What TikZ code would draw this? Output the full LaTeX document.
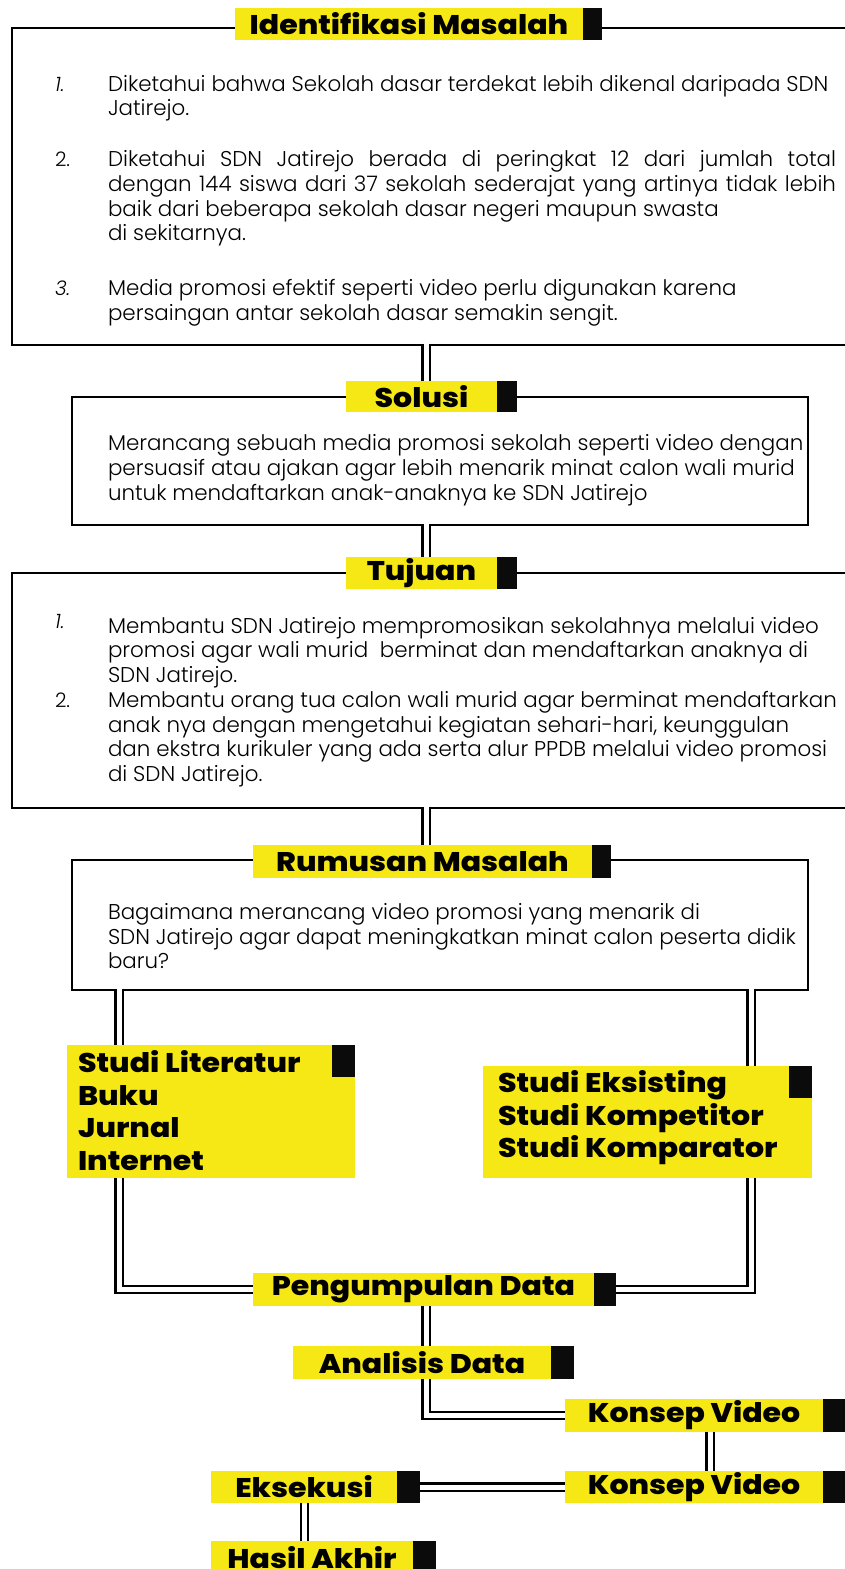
\documentclass[tikz,border=0pt]{standalone}
\usepackage{fontspec}
\IfFontExistsTF{Poppins Light}{\newfontfamily\bodyfont{Poppins Light}}{\newfontfamily\bodyfont{Poppins}}
\IfFontExistsTF{Poppins ExtraBold}{%
  \newfontfamily\headfontX{Poppins ExtraBold}[FakeStretch=1.11]\newcommand\headfont{\headfontX}}{%
  \newfontfamily\headfontX{Poppins}[FakeStretch=1.1]\newcommand\headfont{\headfontX\bfseries}}
\definecolor{tagyellow}{HTML}{F5E814}
\definecolor{tagblack}{HTML}{0B0B0B}
\pgfdeclarelayer{bg}
\pgfdeclarelayer{mid}
\pgfsetlayers{bg,mid,main}
\begin{document}
\begin{tikzpicture}[x=1pt,y=-1pt,
  every node/.style={inner sep=0pt, outer sep=0pt},
  frame/.style={draw=black, line width=2.7pt, fill=white, anchor=north west},
  tagy/.style={fill=tagyellow, anchor=north west, text=black,
    font=\headfont\fontsize{27}{30}\selectfont},
  tagk/.style={fill=tagblack, anchor=north west},
  dbl/.style={draw=black, line width=2.4pt, double=white, double distance=5pt},
  body/.style={anchor=north west, align=left, text=black,
    font=\bodyfont\fontsize{21.4}{24.7}\selectfont},
  num/.style={anchor=north west, align=left, text=black,
    font=\bodyfont\fontsize{20}{24.7}\selectfont},
  studi/.style={anchor=north west, align=left, text=black,
    font=\headfont\fontsize{27}{32.5}\selectfont}
]
\useasboundingbox (0,0) rectangle (845,1569);
\coordinate (spine) at (426,0);
\coordinate (lspine) at (119,0);
\coordinate (rspine) at (751,0);
\coordinate (kvx) at (710,0);
\coordinate (hx) at (304.5,0);

% frames
\begin{pgfonlayer}{bg}
\fill[white] (0,0) rectangle (845,1569);
\node[frame, minimum width=838, minimum height=317] (b1) at (12,28) {};
\node[frame, minimum width=736, minimum height=128] (b2) at (72,397) {};
\node[frame, minimum width=838, minimum height=235] (b3) at (12,573) {};
\node[frame, minimum width=736, minimum height=130] (b4) at (72,860) {};
\end{pgfonlayer}

% yellow blocks and tags
\node[tagy, minimum width=288, minimum height=133] (slit) at (67,1045) {};
\node[tagk, minimum width=23, minimum height=32] (slitk) at (332,1045) {};
\node[tagy, minimum width=329, minimum height=112] (seks) at (483,1066) {};
\node[tagk, minimum width=23, minimum height=32] (seksk) at (789,1066) {};

\node[tagy, minimum width=348, minimum height=32] (idT) at (235,8) {Identifikasi Masalah};
\node[tagk, minimum width=19, minimum height=32] (idK) at (583,8) {};
\node[tagy, minimum width=151, minimum height=31] (solT) at (346,381) {Solusi};
\node[tagk, minimum width=20, minimum height=31] (solK) at (497,381) {};
\node[tagy, minimum width=151, minimum height=32] (tujT) at (346,557) {Tujuan};
\node[tagk, minimum width=20, minimum height=32] (tujK) at (497,557) {};
\node[tagy, minimum width=339, minimum height=33] (rumT) at (253,845) {Rumusan Masalah};
\node[tagk, minimum width=19, minimum height=33] (rumK) at (592,845) {};
\node[tagy, minimum width=341, minimum height=33] (pengT) at (253,1273) {Pengumpulan Data};
\node[tagk, minimum width=22, minimum height=33] (pengK) at (594,1273) {};
\node[tagy, minimum width=258, minimum height=33] (anaT) at (293,1346) {Analisis Data};
\node[tagk, minimum width=23, minimum height=33] (anaK) at (551,1346) {};
\node[tagy, minimum width=258, minimum height=33] (kv1T) at (565,1399) {Konsep Video};
\node[tagk, minimum width=23, minimum height=33] (kv1K) at (823,1399) {};
\node[tagy, minimum width=258, minimum height=32] (kv2T) at (565,1471) {Konsep Video};
\node[tagk, minimum width=23, minimum height=32] (kv2K) at (823,1471) {};
\node[tagy, minimum width=186, minimum height=32] (eksT) at (211,1471) {Eksekusi};
\node[tagk, minimum width=23, minimum height=32] (eksK) at (397,1471) {};
\node[tagy, minimum width=202, minimum height=33] (hasT) at (211,1541) {Hasil Akhir};
\node[tagk, minimum width=23, minimum height=33] (hasK) at (413,1541) {};

% connectors (below the tags, above the frames)
\begin{pgfonlayer}{mid}
\draw[dbl] ([yshift=1.5pt]b1.south -| spine) -- (solT.north -| spine);
\draw[dbl] ([yshift=1.5pt]b2.south -| spine) -- (tujT.north -| spine);
\draw[dbl] ([yshift=1.5pt]b3.south -| spine) -- (rumT.north -| spine);
\draw[dbl] ([yshift=1.5pt]b4.south -| lspine) -- (slit.north -| lspine);
\draw[dbl] ([yshift=1.5pt]b4.south -| rspine) -- (seks.north -| rspine);
\draw[dbl] (slit.south -| lspine) |- (pengT.west);
\draw[dbl] (seks.south -| rspine) |- (pengK.east);
\draw[dbl] (pengT.south -| spine) -- (anaT.north -| spine);
\draw[dbl] (anaT.south -| spine) |- (kv1T.west);
\draw[dbl] (kv1T.south -| kvx) -- (kv2T.north -| kvx);
\draw[dbl] (kv2T.west) -- (eksK.east);
\draw[dbl] (eksT.south -| hx) -- (hasT.north -| hx);
\end{pgfonlayer}

% studi texts
\node[studi] (slitx) at (78,1049.75) {\strut Studi Literatur\\Buku\\Jurnal\\Internet};
\node[studi] (seksx) at (498,1069.75) {\strut Studi Eksisting\\Studi Kompetitor\\Studi Komparator};

% box 1 text
\node[num] (n11) at (55,74) {\strut\itshape 1.};
\node[body] (t11) at (108,74) {\strut Diketahui bahwa Sekolah dasar terdekat lebih dikenal daripada SDN\\Jatirejo.};
\node[num] (n12) at (55,149.5) {\strut 2.};
\node[body] (t12) at (108,149.5) {\strut\makebox[728pt][s]{Diketahui SDN Jatirejo berada di peringkat 12 dari jumlah total}\\\makebox[728pt][s]{dengan 144 siswa dari 37 sekolah sederajat yang artinya tidak lebih}\\baik dari beberapa sekolah dasar negeri maupun swasta\\di sekitarnya.};
\node[num] (n13) at (55,278.5) {\strut\itshape 3.};
\node[body] (t13) at (108,278.5) {\strut Media promosi efektif seperti video perlu digunakan karena\\persaingan antar sekolah dasar semakin sengit.};

% solusi text
\node[body] (t2) at (108,433.5) {\strut Merancang sebuah media promosi sekolah seperti video dengan\\persuasif atau ajakan agar lebih menarik minat calon wali murid\\untuk mendaftarkan anak-anaknya ke SDN Jatirejo};

% tujuan text
\node[num] (n31) at (55,611.5) {\strut\itshape 1.};
\node[body] (t31) at (108,616) {\strut Membantu SDN Jatirejo mempromosikan sekolahnya melalui video\\promosi agar wali murid\ \ berminat dan mendaftarkan anaknya di\\SDN Jatirejo.};
\node[num] (n32) at (55,690.1) {\strut 2.};
\node[body] (t32) at (108,690.1) {\strut Membantu orang tua calon wali murid agar berminat mendaftarkan\\anak nya dengan mengetahui kegiatan sehari-hari, keunggulan\\dan ekstra kurikuler yang ada serta alur PPDB melalui video promosi\\di SDN Jatirejo.};

% rumusan text
\node[body] (t4) at (108,902) {\strut Bagaimana merancang video promosi yang menarik di\\SDN Jatirejo agar dapat meningkatkan minat calon peserta didik\\baru?};
\end{tikzpicture}
\end{document}
